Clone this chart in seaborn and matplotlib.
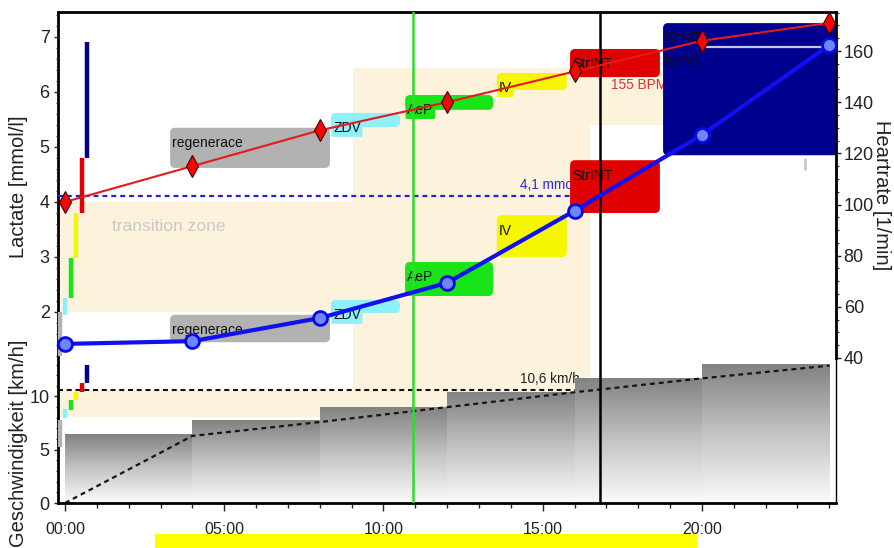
import numpy as np
import matplotlib
matplotlib.use("Agg")
import matplotlib.pyplot as plt
import seaborn as sns
from matplotlib.patches import FancyBboxPatch, Rectangle
from matplotlib.colors import LinearSegmentedColormap
from matplotlib.ticker import FixedLocator, FuncFormatter
from matplotlib import font_manager

# ---------------- data ----------------
stage_minutes = [0, 4, 8, 12, 16, 20, 24]
heart_rate = [101, 115, 129, 140, 152, 164, 171]
lactate = [1.42, 1.47, 1.89, 2.53, 3.84, 5.22, 6.85]

stage_start = [0, 4, 8, 12, 16, 20]
stage_speed = [6.4, 7.7, 9.0, 10.4, 11.7, 13.0]
speed_trend = [0.0, 6.3, 7.6, 9.0, 10.4, 11.7, 12.9]

zone_names = ["regenerace", "ZDV", "AeP", "IV", "StrINT", "KrINT"]
zone_colors = ["#b2b2b2", "#8ef0f8", "#18e418", "#f6f600", "#e00000", "#00008e"]
zone_t0 = [3.30, 8.35, 10.68, 13.56, 15.86, 18.78]
zone_t1 = [8.32, 10.52, 13.44, 15.76, 18.68, 24.30]
zone_hr_lo = [114.3, 130.3, 137.0, 144.8, 149.8, 158.0]
zone_hr_hi = [130.0, 135.8, 142.8, 151.4, 160.8, 170.9]
zone_lac_lo = [1.45, 1.98, 2.29, 3.00, 3.80, 4.85]
zone_lac_hi = [1.95, 2.22, 2.91, 3.76, 4.76, 6.85]

scale_lac_lo = [1.20, 1.95, 2.25, 2.98, 3.80, 4.80]
scale_lac_hi = [2.00, 2.25, 2.98, 3.80, 4.80, 6.90]
scale_spd_lo = [5.3, 8.0, 8.7, 9.7, 10.4, 11.3]
scale_spd_hi = [7.8, 8.8, 9.7, 10.4, 11.3, 13.0]

lactate_threshold = 4.1
speed_threshold = 10.6
hr_threshold = 155

transition_t = [9.05, 16.5]
transition_hr_t_end = 18.8
transition_lac = [2.0, 4.0]
transition_spd = [8.07, 10.6]
transition_hr = [131.1, 153.4]

aep_time = 10.93
current_time = 16.8
hr_peak = 161.7
hr_peak_window = [20, 24]

# ---------------- style ----------------
sns.set_style("white")
available = {f.name for f in font_manager.fontManager.ttflist}
families = [f for f in ["Liberation Sans Narrow", "Liberation Sans", "DejaVu Sans"] if f in available]
plt.rcParams["font.family"] = families
narrow = families[0] == "Liberation Sans Narrow"

LABEL_FS = 14.5 if not narrow else 16
TICK_FS = 13 if not narrow else 14.5
XTICK_FS = 11.5 if not narrow else 13.5
ZONE_FS = 10 if not narrow else 11.5
NOTE_FS = 9.8 if not narrow else 11.5
ZONE_TEXT_FS = 12.5 if not narrow else 15

W, H, DPI = 894, 548, 100
fig = plt.figure(figsize=(W / DPI, H / DPI), dpi=DPI)
fig.patch.set_facecolor("white")

L_PX, R_PX, T_PX, B_PX = 58, 836, 12, 503
pos = [L_PX / W, 1 - B_PX / H, (R_PX - L_PX) / W, (B_PX - T_PX) / H]

XLIM = (-0.22, 24.21)
LAC_LIM = (-1.4727, 7.4545)
SPD_LIM = (0.0, 46.1)
HR_LIM = (-16.68, 175.25)

ax_spd = fig.add_axes(pos, zorder=1)
ax_lac = fig.add_axes(pos, sharex=ax_spd, zorder=2)
ax_hr = fig.add_axes(pos, sharex=ax_spd, zorder=3)
ax_top = fig.add_axes(pos, sharex=ax_spd, zorder=4)

for a in (ax_lac, ax_hr, ax_top):
    a.set_facecolor("none")
ax_spd.set_facecolor("white")

ax_w_px = R_PX - L_PX
ax_h_px = B_PX - T_PX
x_per_px = (XLIM[1] - XLIM[0]) / ax_w_px
lac_per_px = (LAC_LIM[1] - LAC_LIM[0]) / ax_h_px
hr_per_px = (HR_LIM[1] - HR_LIM[0]) / ax_h_px


def hr_to_spd(v):
    return SPD_LIM[0] + (v - HR_LIM[0]) / (HR_LIM[1] - HR_LIM[0]) * (SPD_LIM[1] - SPD_LIM[0])


beige = "#fdf3dc"

# ---------------- background bands (speed axes, bottom layer) ----------------
ax_spd.add_patch(Rectangle((XLIM[0], transition_lac[0]), transition_t[1] - XLIM[0],
                           transition_lac[1] - transition_lac[0],
                           transform=ax_lac.transData, fc=beige, ec="none", zorder=0.5))
ax_spd.add_patch(Rectangle((XLIM[0], transition_spd[0]), transition_t[1] - XLIM[0],
                           transition_spd[1] - transition_spd[0], fc=beige, ec="none", zorder=0.5))
ax_spd.add_patch(Rectangle((transition_t[0], transition_hr[0]), transition_hr_t_end - transition_t[0],
                           transition_hr[1] - transition_hr[0],
                           transform=ax_hr.transData, fc=beige, ec="none", zorder=0.5))
ax_spd.add_patch(Rectangle((transition_t[0], transition_spd[0]), transition_t[1] - transition_t[0],
                           hr_to_spd(transition_hr[1]) - transition_spd[0], fc=beige, ec="none", zorder=0.5))

# threshold speed line and its label (partly hidden by the stage bars)
ax_spd.plot([XLIM[0], 24], [speed_threshold, speed_threshold], color="#111111",
            lw=1.5, ls=(0, (2.4, 1.8)), zorder=1.5)
ax_spd.text(14.29, speed_threshold + 1.0, "10,6 km/h", fontsize=NOTE_FS, color="#222222",
            va="center", ha="left", zorder=1.6)

# stage speeds as gradient bars
gray_cmap = LinearSegmentedColormap.from_list("stage", ["#fbfbfb", "#c4c4c4", "#828282"])
grad = np.linspace(0, 1, 256).reshape(-1, 1)
for t0, s in zip(stage_start, stage_speed):
    ax_spd.imshow(grad, origin="lower", extent=[t0, t0 + 4, 0, s], cmap=gray_cmap,
                  aspect="auto", interpolation="bicubic", zorder=2)

# running speed trend
sns.lineplot(x=stage_minutes, y=speed_trend, ax=ax_spd, color="#151515", lw=1.6,
             linestyle=(0, (2.2, 1.8)), zorder=3, legend=False)

# zone scale markers on the speed axis
marker_x = [-0.16 + 0.17 * i for i in range(len(zone_names))]
ax_spd.vlines(marker_x, scale_spd_lo, scale_spd_hi, colors=zone_colors, lw=3.2, zorder=4)

# ---------------- lactate layer: zone boxes, thresholds, markers ----------------
ax_lac.plot([XLIM[0], transition_t[1]], [lactate_threshold, lactate_threshold],
            color="#2222dd", lw=1.6, ls=(0, (2.2, 1.8)), zorder=1)
ax_lac.text(14.29, lactate_threshold + 0.2, "4,1 mmol/l", fontsize=NOTE_FS, color="#2a2ad8",
            va="center", ha="left", zorder=1.2)
ax_lac.text(17.15, 146.7, f"{hr_threshold} BPM", transform=ax_hr.transData,
            fontsize=NOTE_FS, color="#e03030", va="center", ha="left", zorder=1.2)
ax_lac.text(1.48, 3.56, "transition zone", fontsize=ZONE_TEXT_FS, color="#c9c9c9",
            va="center", ha="left", zorder=1.1)

ax_lac.vlines(marker_x, scale_lac_lo, scale_lac_hi, colors=zone_colors, lw=3.2, zorder=5)

r_px = 5


def zone_box(t0, t1, lo, hi, color, transform, y_per_px, name):
    box = FancyBboxPatch((t0, lo), t1 - t0, hi - lo,
                         boxstyle=f"round,pad=0,rounding_size={r_px * x_per_px}",
                         mutation_aspect=y_per_px / x_per_px, transform=transform,
                         fc=color, ec="none", zorder=3)
    ax_lac.add_patch(box)
    ax_lac.annotate(name, xy=(t0, hi), xycoords=transform, xytext=(1.5, -6),
                    textcoords="offset points", ha="left", va="top",
                    fontsize=ZONE_FS, color="#111111", zorder=4,
                    bbox=dict(boxstyle="round,pad=0.12", fc=color, ec="none"))


for i, name in enumerate(zone_names):
    zone_box(zone_t0[i], zone_t1[i], zone_lac_lo[i], zone_lac_hi[i], zone_colors[i],
             ax_lac.transData, lac_per_px, name)
    zone_box(zone_t0[i], zone_t1[i], zone_hr_lo[i], zone_hr_hi[i], zone_colors[i],
             ax_hr.transData, hr_per_px, name)

# time markers
ax_lac.axvline(aep_time, color="#2ddc2d", lw=1.8, zorder=6)
ax_lac.axvline(current_time, color="#000000", lw=1.8, zorder=6)

# ---------------- heart rate layer ----------------
ax_hr.plot(hr_peak_window, [hr_peak, hr_peak], color="#c4c4dc", lw=1.6, zorder=2)
ax_hr.vlines([23.23], [113.5], [118.2], colors="#c8c8c8", lw=2, zorder=2)
sns.lineplot(x=stage_minutes, y=heart_rate, ax=ax_hr, color="#e51a1a", lw=1.5,
             marker="d", markersize=11, markerfacecolor="#ff0000",
             markeredgecolor="#3a0000", markeredgewidth=0.8, zorder=3, legend=False)

# ---------------- lactate curve on top ----------------
sns.lineplot(x=stage_minutes, y=lactate, ax=ax_top, color="#1010f0", lw=3,
             marker="o", markersize=10, markerfacecolor="#6c86ff",
             markeredgecolor="#0a0ae6", markeredgewidth=2, zorder=3, legend=False)

# ---------------- axes, ticks, spines ----------------
for a in (ax_spd, ax_lac, ax_hr, ax_top):
    a.set_xlim(*XLIM)
ax_spd.set_ylim(*SPD_LIM)
ax_lac.set_ylim(*LAC_LIM)
ax_top.set_ylim(*LAC_LIM)
ax_hr.set_ylim(*HR_LIM)

tick_color = "#222222"

ax_spd.xaxis.set_major_locator(FixedLocator([0, 5, 10, 15, 20]))
ax_spd.xaxis.set_minor_locator(FixedLocator(list(range(0, 25))))
ax_spd.xaxis.set_major_formatter(FuncFormatter(lambda v, p: f"{int(round(v)):02d}:00"))
ax_spd.tick_params(axis="x", which="major", length=6, width=1, pad=8,
                   labelsize=XTICK_FS, colors=tick_color, bottom=True)
ax_spd.tick_params(axis="x", which="minor", length=3.5, width=1, bottom=True, colors=tick_color)

ax_spd.yaxis.set_major_locator(FixedLocator([0, 5, 10]))
ax_spd.yaxis.set_minor_locator(FixedLocator(list(range(0, 14))))
ax_spd.tick_params(axis="y", which="major", length=3, width=1, pad=3,
                   labelsize=TICK_FS, colors=tick_color, left=True)
ax_spd.tick_params(axis="y", which="minor", length=1.5, width=0.8, left=True)

ax_lac.yaxis.set_major_locator(FixedLocator([2, 3, 4, 5, 6, 7]))
ax_lac.yaxis.set_minor_locator(FixedLocator(list(np.round(np.arange(1.2, 7.45, 0.2), 2))))
ax_lac.tick_params(axis="y", which="major", length=3, width=1, pad=3,
                   labelsize=TICK_FS, colors=tick_color, left=True)
ax_lac.tick_params(axis="y", which="minor", length=1.5, width=0.8, left=True)
ax_lac.tick_params(axis="x", which="both", bottom=False, labelbottom=False)

ax_hr.yaxis.tick_right()
ax_hr.yaxis.set_label_position("right")
ax_hr.yaxis.set_major_locator(FixedLocator([40, 60, 80, 100, 120, 140, 160]))
ax_hr.yaxis.set_minor_locator(FixedLocator(list(range(40, 176, 5))))
ax_hr.tick_params(axis="y", which="major", length=3.5, width=1, pad=2,
                  labelsize=TICK_FS, colors=tick_color, right=True)
ax_hr.tick_params(axis="y", which="minor", length=2, width=0.8, right=True)
ax_hr.tick_params(axis="x", which="both", bottom=False, labelbottom=False)

ax_top.axis("off")

for side in ("left", "bottom", "top"):
    ax_spd.spines[side].set_linewidth(2)
    ax_spd.spines[side].set_color("#000000")
ax_spd.spines["right"].set_linewidth(1)
ax_spd.spines["right"].set_color("#000000")
for a in (ax_lac, ax_hr):
    for s in a.spines.values():
        s.set_visible(False)
ax_hr.spines["right"].set_visible(True)
ax_hr.spines["right"].set_linewidth(2)
ax_hr.spines["right"].set_color("#000000")
ax_hr.spines["right"].set_bounds(40, HR_LIM[1])

ax_lac.set_ylabel("Lactate [mmol/l]", fontsize=LABEL_FS, color="#222222")
ax_lac.yaxis.set_label_coords(-0.039, 0.645)
ax_spd.set_ylabel("Geschwindigkeit [km/h]", fontsize=LABEL_FS, color="#222222")
ax_spd.yaxis.set_label_coords(-0.039, 0.122)
ax_hr.set_ylabel("Heartrate [1/min]", fontsize=LABEL_FS, color="#222222", rotation=270,
                 va="center")
ax_hr.yaxis.set_label_coords(1.059, 0.627)

# highlight strip along the bottom edge
fig.patches.append(Rectangle((155 / W, 0), (697 - 155) / W, (548 - 534) / H,
                             transform=fig.transFigure, fc="#ffff00", ec="none", zorder=10))

fig.savefig("out.png", dpi=DPI)
